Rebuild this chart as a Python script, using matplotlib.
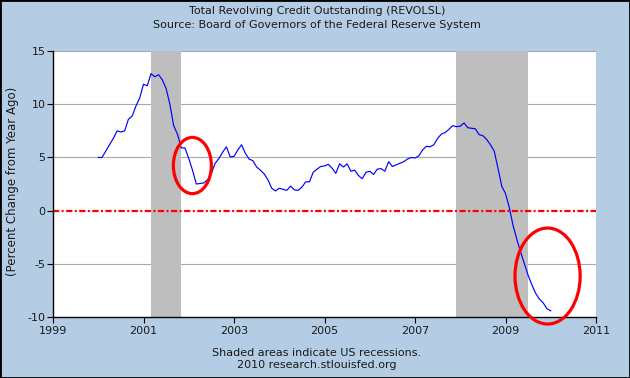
import matplotlib
matplotlib.use("Agg")
import matplotlib.pyplot as plt
from matplotlib.patches import Ellipse, Rectangle
import numpy as np

# ---- data ----
start_year = 2000
pct_change = [
    5.0, 5.0, 5.6, 6.2, 6.8, 7.5, 7.4, 7.5, 8.6, 8.9, 9.85, 10.6,
    11.9, 11.75, 12.9, 12.6, 12.8, 12.3, 11.5, 10.0, 8.0, 7.2, 5.9, 5.9,
    4.9, 3.8, 2.5, 2.55, 2.6, 2.9, 3.5, 4.45, 4.9, 5.5, 6.0, 5.05,
    5.1, 5.7, 6.2, 5.4, 4.85, 4.7, 4.1, 3.8, 3.45, 2.9, 2.1, 1.85,
    2.1, 2.0, 1.9, 2.3, 1.95, 1.9, 2.2, 2.7, 2.7, 3.6, 3.9, 4.15,
    4.2, 4.35, 4.0, 3.5, 4.4, 4.1, 4.4, 3.7, 3.8, 3.3, 3.0, 3.6,
    3.7, 3.4, 3.9, 3.95, 3.7, 4.6, 4.15, 4.3, 4.45, 4.6, 4.85, 5.0,
    4.95, 5.15, 5.7, 6.05, 6.0, 6.2, 6.8, 7.2, 7.35, 7.65, 8.0, 7.9,
    7.95, 8.25, 7.8, 7.75, 7.7, 7.15, 7.05, 6.7, 6.2, 5.6, 4.0, 2.3,
    1.6, 0.3, -1.4, -2.7, -3.9, -5.0, -6.1, -7.0, -7.8, -8.35, -8.7, -9.25,
    -9.45,
]
recessions = [(2001 + 2 / 12, 2001 + 10 / 12), (2007 + 11 / 12, 2009 + 6 / 12)]
x_ticks = [1999, 2001, 2003, 2005, 2007, 2009, 2011]
y_ticks = [-10, -5, 0, 5, 10, 15]
circles = [(2002.08, 4.24, 0.84, 5.3), (2009.93, -6.17, 1.44, 9.04)]

dates = start_year + np.arange(len(pct_change)) / 12.0

bg = "#B4CDE4"
fig = plt.figure(figsize=(6.3, 3.78), dpi=100, facecolor=bg)
ax = fig.add_axes([53 / 630, 1 - 316.7 / 378, 543 / 630, 265.4 / 378])
ax.set_facecolor("white")

for a, b in recessions:
    ax.axvspan(a, b, color="#BEBEBE", lw=0, zorder=1)

for yv in y_ticks:
    if yv not in (0, -10):
        ax.axhline(yv, color="#A8A8A8", lw=0.8, zorder=0.5)

ax.axhline(0, color="#FF0000", lw=1.6, dashes=[2.8, 1.1, 0.9, 1.1], zorder=2)
ax.plot(dates, pct_change, color="#0000FF", lw=0.85, zorder=3)

for cx, cy, w, h in circles:
    e = Ellipse((cx, cy), w, h, fill=False, edgecolor="#FF0000", lw=2.3,
                clip_on=False, zorder=5)
    ax.add_patch(e)

ax.set_xlim(1999, 2011)
ax.set_ylim(-10, 15)
ax.set_xticks(x_ticks)
ax.set_xticklabels([str(t) for t in x_ticks])
ax.set_yticks(y_ticks)
ax.set_yticklabels([str(t) for t in y_ticks])
ax.tick_params(axis="both", direction="out", length=4.3, width=0.8,
               colors="black", labelsize=8, labelcolor="#1a1a1a")
ax.tick_params(axis="y", pad=1)
ax.tick_params(axis="x", pad=2.5)
for s in ("top", "right"):
    ax.spines[s].set_visible(False)
for s in ("left", "bottom"):
    ax.spines[s].set_linewidth(1.0)
    ax.spines[s].set_color("black")

ax.set_ylabel("(Percent Change from Year Ago)", fontsize=8.5, color="#1a1a1a")
ax.yaxis.set_label_coords(-34 / 543, 0.51)

tx = 317 / 630
fig.text(tx, 1 - 11.5 / 378, "Total Revolving Credit Outstanding (REVOLSL)",
         ha="center", va="center", fontsize=8, color="#1a1a1a")
fig.text(tx, 1 - 25.5 / 378, "Source: Board of Governors of the Federal Reserve System",
         ha="center", va="center", fontsize=8, color="#1a1a1a")
fig.text(tx, 1 - 352.5 / 378, "Shaded areas indicate US recessions.",
         ha="center", va="center", fontsize=8, color="#1a1a1a")
fig.text(tx, 1 - 365.5 / 378, "2010 research.stlouisfed.org",
         ha="center", va="center", fontsize=8, color="#1a1a1a")

fig.patches.append(Rectangle((0, 0), 1, 1, transform=fig.transFigure,
                             fill=False, edgecolor="black", lw=2.0))

fig.savefig("out.png", dpi=100, facecolor=bg)
